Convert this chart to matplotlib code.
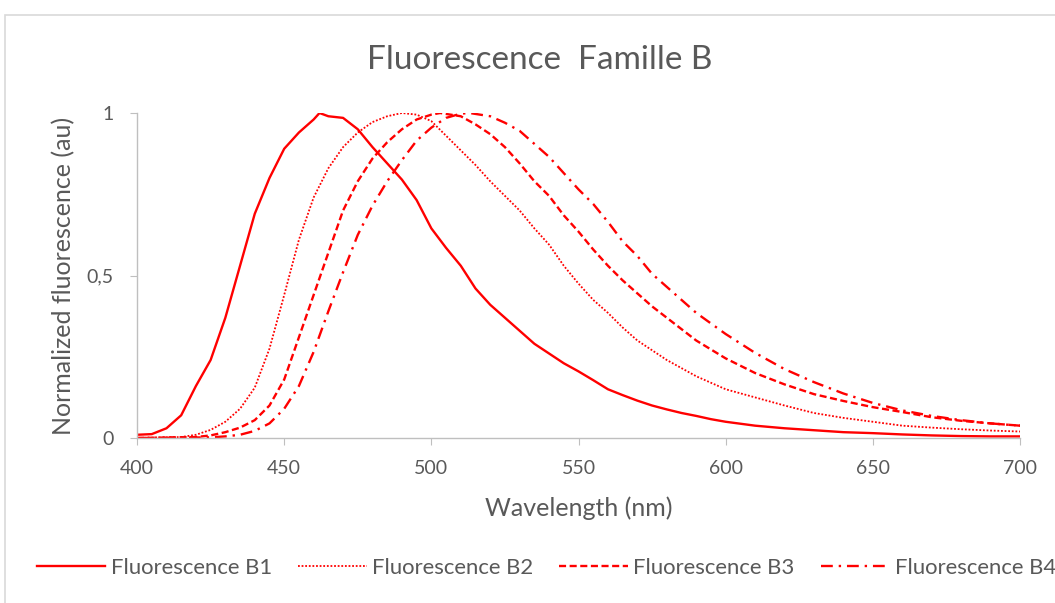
import matplotlib
matplotlib.use("Agg")
import matplotlib.pyplot as plt
from matplotlib.patches import Rectangle

plt.rcParams['font.family'] = ['Lato', 'DejaVu Sans']

wl_b1 = [400, 405, 410, 415, 420, 425, 430, 435, 440, 445, 450, 455, 460, 462, 465, 470, 475, 480, 485, 490, 495,
         500, 505, 510, 515, 520, 525, 530, 535, 540, 545, 550, 555, 560, 565, 570, 575, 580, 585, 590, 595,
         600, 610, 620, 630, 640, 650, 660, 670, 680, 690, 700]
b1 = [0.01, 0.012, 0.03, 0.07, 0.16, 0.24, 0.37, 0.53, 0.69, 0.80, 0.89, 0.94, 0.98, 1.0, 0.99, 0.985, 0.95, 0.895,
      0.845, 0.795, 0.732, 0.645, 0.585, 0.53, 0.46, 0.41, 0.37, 0.33, 0.29, 0.26, 0.23, 0.205, 0.178, 0.15, 0.132,
      0.115, 0.10, 0.088, 0.077, 0.068, 0.058, 0.05, 0.038, 0.03, 0.024, 0.018, 0.015, 0.011, 0.008, 0.006, 0.005, 0.005]

wl_b2 = [400, 415, 420, 425, 430, 435, 440, 445, 450, 455, 460, 465, 470, 475, 480, 485, 490, 495, 500, 505, 510,
         515, 520, 525, 530, 535, 540, 545, 550, 555, 560, 565, 570, 575, 580, 590, 600, 610, 620, 630, 640,
         650, 660, 670, 680, 690, 700]
b2 = [0.0, 0.003, 0.01, 0.025, 0.05, 0.09, 0.155, 0.275, 0.44, 0.61, 0.74, 0.83, 0.895, 0.94, 0.972, 0.99, 1.0,
      0.995, 0.975, 0.93, 0.885, 0.84, 0.79, 0.745, 0.70, 0.645, 0.595, 0.53, 0.475, 0.425, 0.385, 0.34, 0.30,
      0.27, 0.24, 0.19, 0.15, 0.125, 0.10, 0.077, 0.062, 0.05, 0.038, 0.032, 0.027, 0.023, 0.02]

wl_b3 = [400, 420, 425, 430, 435, 440, 445, 450, 455, 460, 465, 470, 475, 480, 485, 490, 495, 500, 503, 510, 515,
         520, 525, 530, 535, 540, 545, 550, 555, 560, 565, 570, 575, 580, 590, 600, 610, 620, 630, 640, 650,
         660, 670, 680, 690, 700]
b3 = [0.0, 0.003, 0.008, 0.018, 0.032, 0.055, 0.10, 0.18, 0.31, 0.44, 0.57, 0.70, 0.79, 0.86, 0.91, 0.95, 0.98,
      0.995, 1.0, 0.99, 0.965, 0.935, 0.895, 0.845, 0.79, 0.745, 0.685, 0.635, 0.58, 0.53, 0.485, 0.445, 0.405,
      0.37, 0.30, 0.245, 0.20, 0.165, 0.135, 0.114, 0.095, 0.08, 0.064, 0.053, 0.045, 0.038]

wl_b4 = [400, 425, 430, 435, 440, 445, 450, 455, 460, 465, 470, 475, 480, 485, 490, 495, 500, 505, 510, 513, 520,
         525, 530, 535, 540, 545, 550, 555, 560, 565, 570, 575, 580, 590, 600, 610, 620, 630, 640, 650, 660,
         670, 680, 690, 700]
b4 = [0.0, 0.002, 0.005, 0.01, 0.022, 0.045, 0.09, 0.16, 0.265, 0.39, 0.51, 0.625, 0.715, 0.79, 0.855, 0.915,
      0.955, 0.985, 0.998, 1.0, 0.99, 0.97, 0.945, 0.905, 0.865, 0.815, 0.765, 0.72, 0.665, 0.605, 0.56, 0.505,
      0.465, 0.385, 0.32, 0.262, 0.212, 0.172, 0.137, 0.108, 0.085, 0.068, 0.055, 0.045, 0.038]

labels = ["Fluorescence B1", "Fluorescence B2", "Fluorescence B3", "Fluorescence B4"]
x_ticks = [400, 450, 500, 550, 600, 650, 700]
y_ticks = [0, 0.5, 1]
y_ticklabels = ["0", "0,5", "1"]

RED = "#ff0000"
GRAY = "#595959"

fig = plt.figure(figsize=(10.55, 6.03), dpi=100)
fig.patches.append(Rectangle((0.005, -0.01), 1.0, 0.985, transform=fig.transFigure,
                             fill=False, edgecolor="#d9d9d9", linewidth=1.2))
ax = fig.add_axes([0.1299, 0.2736, 0.8369, 0.539])

ax.plot(wl_b1, b1, color=RED, lw=1.7, linestyle='-', label=labels[0])
ax.plot(wl_b2, b2, color=RED, lw=1.3, linestyle=(0, (1, 1)), label=labels[1])
ax.plot(wl_b3, b3, color=RED, lw=1.7, linestyle=(0, (3, 1.5)), label=labels[2])
ax.plot(wl_b4, b4, color=RED, lw=1.7, linestyle=(0, (5, 2.5, 1, 2.5)), label=labels[3])

ax.set_xlim(400, 700)
ax.set_ylim(0, 1)
ax.set_xticks(x_ticks)
ax.set_yticks(y_ticks)
ax.set_yticklabels(y_ticklabels)
for s in ['top', 'right']:
    ax.spines[s].set_visible(False)
for s in ['left', 'bottom']:
    ax.spines[s].set_color('#bfbfbf')
    ax.spines[s].set_linewidth(1.0)
ax.tick_params(axis='both', colors='#bfbfbf', labelcolor=GRAY, labelsize=14, length=5, direction='out')
ax.tick_params(axis='x', pad=11)
ax.tick_params(axis='y', pad=12)

fig.text(0.512, 0.90, "Fluorescence  Famille B", ha='center', va='center', fontsize=24, color=GRAY)
ax.set_xlabel("Wavelength (nm)", fontsize=18, color=GRAY, labelpad=14)
ax.set_ylabel("Normalized fluorescence (au)", fontsize=18, color=GRAY, labelpad=8)

fig.legend(loc='center left', bbox_to_anchor=(0.035, 0.058), ncol=4, frameon=False, fontsize=15.9,
           handlelength=3.1, columnspacing=1.18, handletextpad=0.25, borderpad=0, borderaxespad=0,
           labelcolor=GRAY)

fig.savefig("out.png", dpi=100, facecolor='white')
